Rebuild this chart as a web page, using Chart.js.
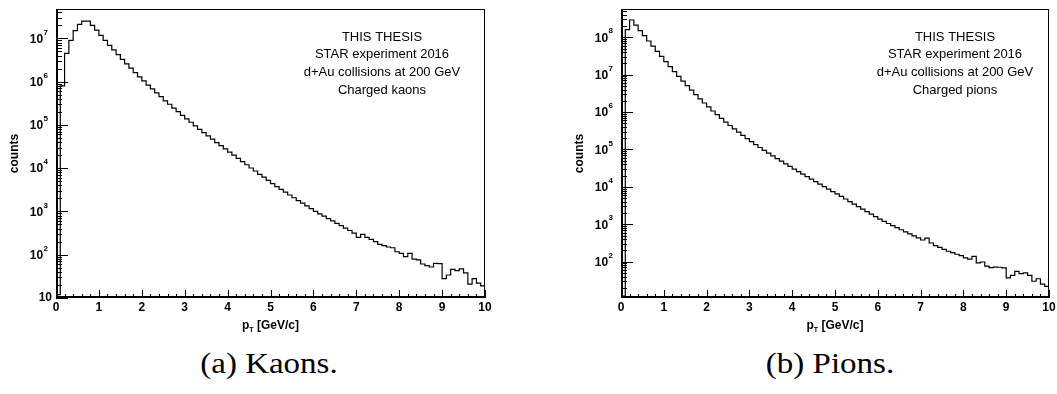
<!DOCTYPE html>
<html>
<head>
<meta charset="utf-8">
<script src="https://cdn.jsdelivr.net/npm/chart.js@4.4.0/dist/chart.umd.min.js"></script>
<style>
    body { margin: 0; background: #fff; width: 1057px; height: 394px; overflow: hidden; position: relative; }
    canvas { position: absolute; top: 0; }
    #kaonCanvas { left: 0; }
    #pionCanvas { left: 528px; }
    .caption {
        position: absolute; top: 346px; width: 300px; text-align: center;
        font-family: "Liberation Serif", serif; font-size: 30px; color: #000;
        transform: scaleX(1.1); white-space: nowrap;
    }
</style>
</head>
<body>
<canvas id="kaonCanvas" width="528" height="340"></canvas>
<canvas id="pionCanvas" width="529" height="340"></canvas>
<div class="caption" style="left:119px">(a) Kaons.</div>
<div class="caption" style="left:680px">(b) Pions.</div>
<script>
// pT binning: 100 bins of 0.1 GeV/c
const binWidth = 0.1;
const xTicks = [0, 1, 2, 3, 4, 5, 6, 7, 8, 9, 10];

const kaonCounts = [
    12, 8.0e5, 4.5e6, 9.0e6, 1.5e7, 2.1e7, 2.5e7, 2.5e7, 2.0e7, 1.55e7,
    1.17e7, 9.0e6, 6.9e6, 5.4e6, 4.2e6, 3.27e6, 2.57e6, 2.04e6, 1.62e6, 1.29e6,
    1.04e6, 8.3e5, 6.8e5, 5.5e5, 4.5e5, 3.6e5, 3.0e5, 2.45e5, 2.02e5, 1.66e5,
    1.38e5, 1.15e5, 9.5e4, 7.9e4, 6.6e4, 5.6e4, 4.7e4, 3.9e4, 3.3e4, 2.8e4,
    2.35e4, 2.0e4, 1.68e4, 1.41e4, 1.2e4, 1.01e4, 8.6e3, 7.2e3, 6.2e3, 5.2e3,
    4.4e3, 3.76e3, 3.24e3, 2.79e3, 2.4e3, 2.07e3, 1.78e3, 1.55e3, 1.35e3, 1.16e3,
    1000, 880, 776, 684, 603, 531, 468, 412, 363, 316,
    251, 295, 251, 226, 200, 174, 162, 151, 145, 117,
    107, 90, 107, 79, 76, 61, 56, 52, 63, 62,
    28, 34, 46, 43, 47, 38, 21, 28, 22, 19
];

const pionCounts = [
    12, 1.6e8, 2.9e8, 2.1e8, 1.51e8, 1.1e8, 7.96e7, 5.78e7, 4.21e7, 3.07e7,
    2.24e7, 1.64e7, 1.21e7, 9.0e6, 6.75e6, 5.08e6, 3.85e6, 2.94e6, 2.26e6, 1.75e6,
    1.37e6, 1.07e6, 8.5e5, 6.76e5, 5.42e5, 4.38e5, 3.56e5, 2.9e5, 2.38e5, 1.96e5,
    1.63e5, 1.35e5, 1.13e5, 9.5e4, 8.0e4, 6.76e4, 5.73e4, 4.86e4, 4.14e4, 3.52e4,
    3.0e4, 2.56e4, 2.19e4, 1.87e4, 1.61e4, 1.38e4, 1.18e4, 1.02e4, 8.75e3, 7.5e3,
    6.5e3, 5.56e3, 4.75e3, 4.06e3, 3.48e3, 2.97e3, 2.54e3, 2.18e3, 1.87e3, 1.6e3,
    1370, 1200, 1050, 925, 813, 714, 628, 553, 488, 431,
    380, 427, 316, 269, 240, 214, 190, 174, 158, 145,
    126, 117, 138, 93, 98, 76, 69, 72, 71, 68,
    37, 43, 55, 48, 50, 43, 30, 35, 25, 22
];

// decade labels on the count axis (10^n)
const kaonYExponents = [1, 2, 3, 4, 5, 6, 7];
const pionYExponents = [2, 3, 4, 5, 6, 7, 8];

const kaonText = ["THIS THESIS", "STAR experiment 2016", "d+Au collisions at 200 GeV", "Charged kaons"];
const pionText = ["THIS THESIS", "STAR experiment 2016", "d+Au collisions at 200 GeV", "Charged pions"];

const FONT = '"Liberation Sans", Arial, sans-serif';

// ROOT-like frame: box, inward ticks, superscript decade labels
const rootFrame = {
    id: "rootFrame",
    afterDraw(chart, args, opts) {
        const { ctx, chartArea: a, scales: { x, y } } = chart;
        ctx.save();
        ctx.strokeStyle = "#000";
        ctx.fillStyle = "#000";

        ctx.lineWidth = 1;
        ctx.strokeRect(a.left + 0.5, a.top + 0.5, a.right - a.left - 1, a.bottom - a.top - 1);
        ctx.lineWidth = 2;
        ctx.beginPath();
        ctx.moveTo(a.left + 1, a.top);
        ctx.lineTo(a.left + 1, a.bottom);
        ctx.moveTo(a.left, a.bottom - 1);
        ctx.lineTo(a.right, a.bottom - 1);
        ctx.stroke();

        // x ticks
        ctx.lineWidth = 1;
        ctx.beginPath();
        for (let i = 0; i < xTicks.length; i++) {
            for (let k = 0; k < 5; k++) {
                if (i === xTicks.length - 1 && k > 0) break;
                let v = xTicks[i] + k * 0.2;
                let px = Math.round(x.getPixelForValue(v)) + 0.5;
                let len = k === 0 ? 8 : 4;
                ctx.moveTo(px, a.bottom);
                ctx.lineTo(px, a.bottom - len);
            }
        }
        // y ticks, 1..9 per decade
        let eLo = Math.floor(Math.log10(y.min));
        let eHi = Math.ceil(Math.log10(y.max));
        for (let e = eLo; e <= eHi; e++) {
            for (let m = 1; m <= 9; m++) {
                let v = m * Math.pow(10, e);
                if (v < y.min || v > y.max) continue;
                let py = Math.round(y.getPixelForValue(v)) + 0.5;
                let len = m === 1 ? 12 : 6;
                ctx.moveTo(a.left, py);
                ctx.lineTo(a.left + len, py);
            }
        }
        ctx.stroke();

        // x tick labels
        ctx.font = "bold 12px " + FONT;
        ctx.textAlign = "center";
        ctx.textBaseline = "middle";
        xTicks.forEach(t => {
            ctx.fillText(String(t), x.getPixelForValue(t), a.bottom + 10);
        });

        // y decade labels
        opts.exponents.forEach(n => {
            let py = y.getPixelForValue(Math.pow(10, n));
            ctx.textAlign = "right";
            ctx.textBaseline = "middle";
            if (n === 1) {
                ctx.font = "bold 12px " + FONT;
                ctx.fillText("10", a.left - 4, py);
                return;
            }
            ctx.font = "bold 8px " + FONT;
            let sup = String(n);
            let supW = ctx.measureText(sup).width;
            ctx.fillText(sup, a.left - 8, py - 6);
            ctx.font = "bold 12px " + FONT;
            ctx.fillText("10", a.left - 8 - supW - 0.5, py + 1);
        });

        // axis titles
        ctx.font = "bold 12px " + FONT;
        ctx.save();
        ctx.translate(opts.yTitleX, (a.top + a.bottom) / 2);
        ctx.rotate(-Math.PI / 2);
        ctx.textAlign = "center";
        ctx.fillText("counts", 0, 0);
        ctx.restore();

        let title = " [GeV/c]";
        ctx.font = "bold 12px " + FONT;
        let wP = ctx.measureText("p").width;
        let wRest = ctx.measureText(title).width;
        ctx.font = "bold 7px " + FONT;
        let wT = ctx.measureText("T").width;
        let tx = (a.left + a.right) / 2 - (wP + wT + wRest) / 2;
        let ty = a.bottom + 28;
        ctx.textAlign = "left";
        ctx.font = "bold 12px " + FONT;
        ctx.fillText("p", tx, ty);
        ctx.font = "bold 7px " + FONT;
        ctx.fillText("T", tx + wP, ty + 4);
        ctx.font = "bold 12px " + FONT;
        ctx.fillText(title, tx + wP + wT, ty);

        // info box text
        ctx.font = "13px " + FONT;
        ctx.textAlign = "center";
        opts.lines.forEach((line, i) => {
            ctx.fillText(line, opts.textX, opts.textY + i * 17.7);
        });
        ctx.restore();
    }
};

function histPoints(counts) {
    let pts = counts.map((c, i) => ({ x: i * binWidth, y: c }));
    pts.push({ x: counts.length * binWidth, y: counts[counts.length - 1] });
    return pts;
}

function drawHistogram(id, counts, yMin, yMax, padding, frameOpts) {
    return new Chart(document.getElementById(id), {
        type: "line",
        data: {
            datasets: [{
                data: histPoints(counts),
                stepped: true,
                borderColor: "#000",
                borderWidth: 1.2,
                pointRadius: 0,
                fill: false
            }]
        },
        options: {
            responsive: false,
            animation: false,
            layout: { padding },
            plugins: { legend: { display: false }, tooltip: { enabled: false }, rootFrame: frameOpts },
            scales: {
                x: { type: "linear", min: 0, max: 10, display: false },
                y: { type: "logarithmic", min: yMin, max: yMax, bounds: "data", display: false }
            }
        },
        plugins: [rootFrame]
    });
}

drawHistogram("kaonCanvas", kaonCounts, 10, 4.76e7,
    { left: 56, top: 9, right: 43, bottom: 42 },
    { exponents: kaonYExponents, lines: kaonText, textX: 382, textY: 37, yTitleX: 15 });

drawHistogram("pionCanvas", pionCounts, 10.7, 5.7e8,
    { left: 93, top: 9, right: 8, bottom: 42 },
    { exponents: pionYExponents, lines: pionText, textX: 427, textY: 37, yTitleX: 52 });
</script>
</body>
</html>
